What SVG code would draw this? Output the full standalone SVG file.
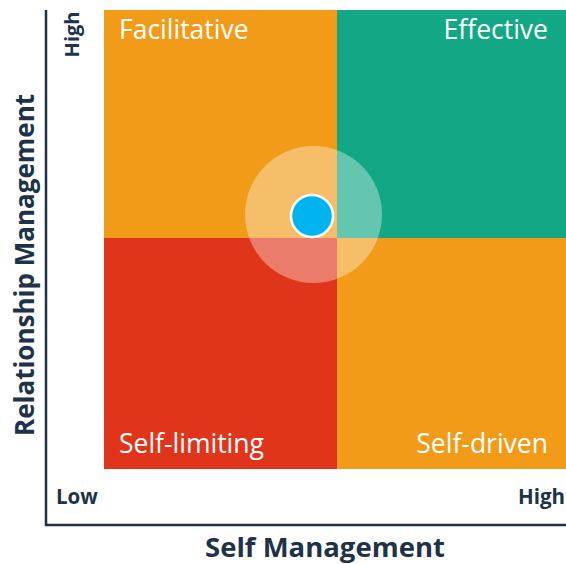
<svg xmlns="http://www.w3.org/2000/svg" width="566" height="564" viewBox="0 0 566 564">
<style>
.q{font-family:"Open Sans","Noto Sans","Liberation Sans",sans-serif;font-size:26.5px;fill:#fff}
.ax{font-family:"Open Sans","Noto Sans","Liberation Sans",sans-serif;font-weight:bold;fill:#1e3248}
.axis{stroke:#1e3248;stroke-width:2.5;fill:none}
</style>
<rect width="566" height="564" fill="#fff"/>
<g id="facilitative"><rect x="104" y="10" width="233" height="228" fill="#F29B18"/><text class="q" x="119" y="39">Facilitative</text></g>
<g id="effective"><rect x="337" y="10" width="229" height="228" fill="#13A885"/><text class="q" x="548" y="39" text-anchor="end">Effective</text></g>
<g id="self-limiting"><rect x="104" y="238" width="233" height="231" fill="#E0351B"/><text class="q" x="119" y="453">Self-limiting</text></g>
<g id="self-driven"><rect x="337" y="238" width="229" height="231" fill="#F29B18"/><text class="q" x="548" y="453" text-anchor="end">Self-driven</text></g>
<g id="marker">
<circle cx="313.5" cy="214.5" r="68.5" fill="#fff" fill-opacity="0.35"/>
<circle cx="312" cy="216" r="21" fill="#00B5EF" stroke="#fff" stroke-width="2.5"/>
</g>
<g id="axes">
<path class="axis" d="M46 10 V525 H566"/>
</g>
<text class="ax" x="56" y="504" font-size="20.5">Low</text>
<text class="ax" x="565" y="504" font-size="20.5" text-anchor="end">High</text>
<text class="ax" transform="translate(79 34.5) rotate(-90)" font-size="20" text-anchor="middle">High</text>
<text class="ax" x="325" y="557" font-size="27.5" text-anchor="middle">Self Management</text>
<text class="ax" transform="translate(34 265) rotate(-90)" font-size="26" text-anchor="middle">Relationship Management</text>
</svg>
